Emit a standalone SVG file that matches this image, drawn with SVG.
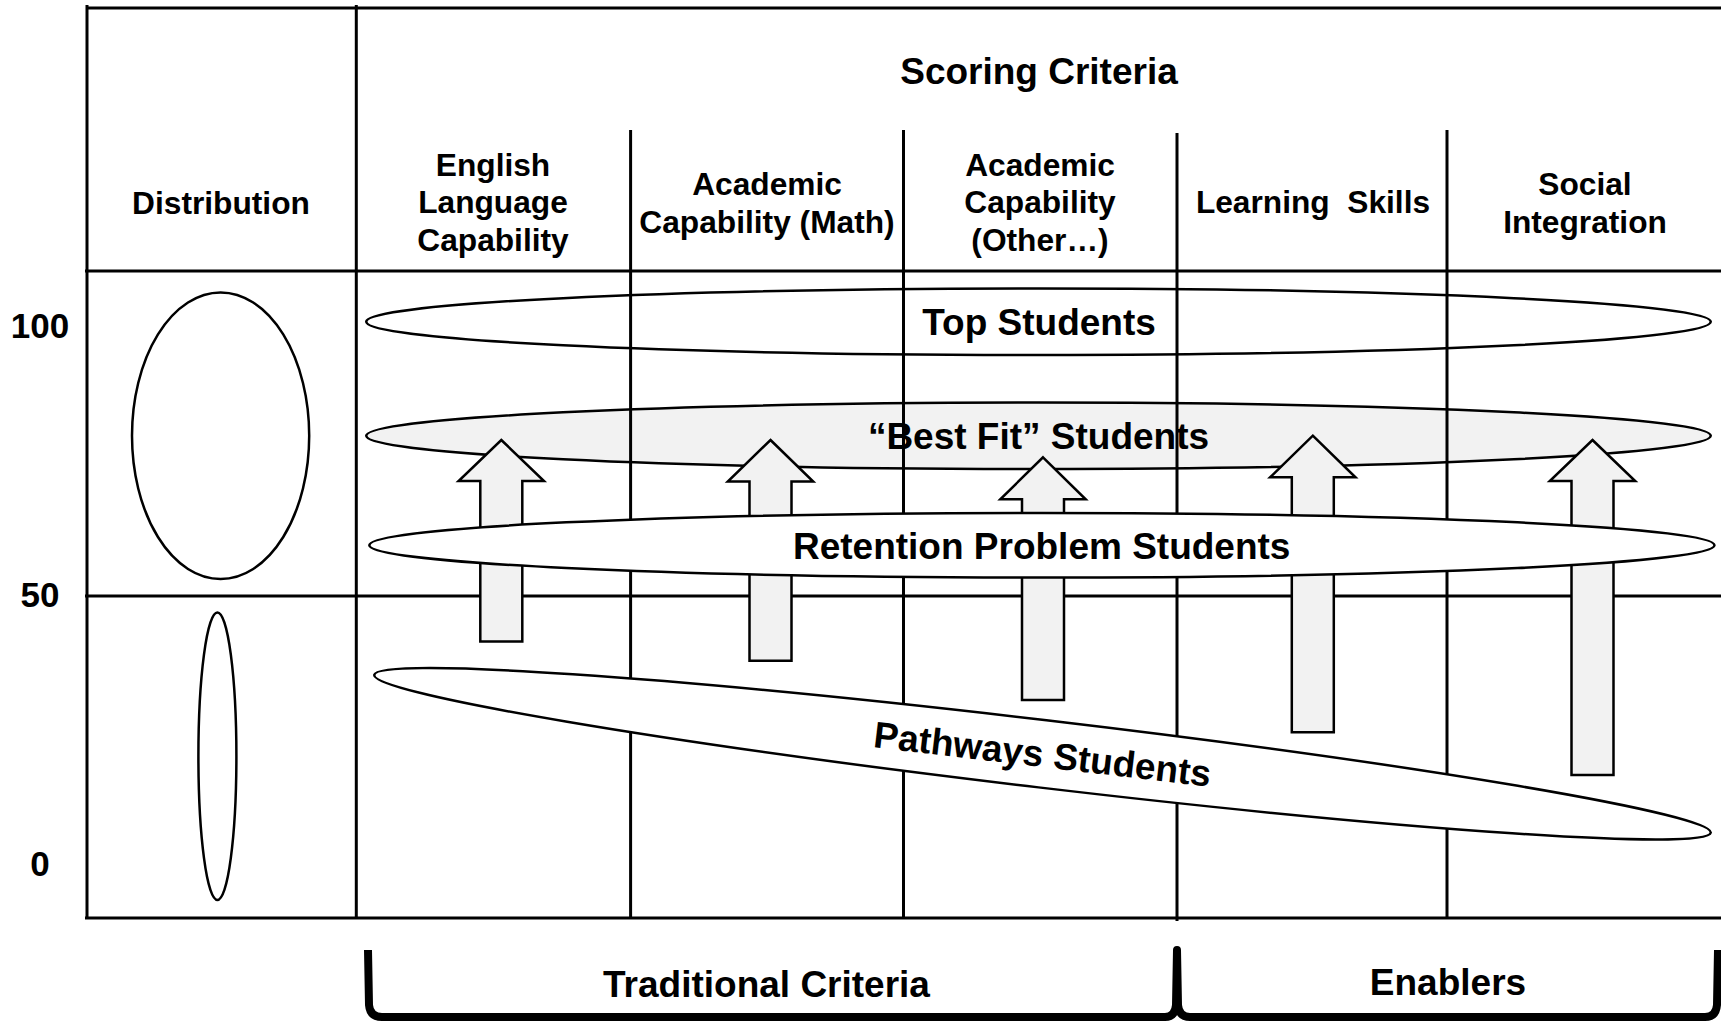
<svg xmlns="http://www.w3.org/2000/svg" width="1721" height="1021" viewBox="0 0 1721 1021">
<style>
text{font-family:"Liberation Sans",Arial,sans-serif;font-weight:bold;fill:#000;text-anchor:middle}
.hd{font-size:31.7px}
.big{font-size:37px}
.ax{font-size:35px}
.grid{stroke:#000;stroke-width:3;fill:none}
.ell{stroke:#000;stroke-width:2.5;fill:#fff}
.ellg{stroke:#000;stroke-width:2.5;fill:#f2f2f2}
.arr{stroke:#000;stroke-width:2.5;fill:#f2f2f2;stroke-linejoin:miter}
.brk{stroke:#000;stroke-width:8;fill:none;stroke-linejoin:round}
</style>
<rect width="1721" height="1021" fill="#fff"/>

<g id="headers">
<text class="big" x="1039" y="84">Scoring Criteria</text>
<text class="hd" x="221" y="214">Distribution</text>
<text class="hd" x="493" y="176">English</text>
<text class="hd" x="493" y="213.3">Language</text>
<text class="hd" x="493" y="250.7">Capability</text>
<text class="hd" x="767" y="195">Academic</text>
<text class="hd" x="767" y="232.5">Capability (Math)</text>
<text class="hd" x="1040" y="176">Academic</text>
<text class="hd" x="1040" y="213.3">Capability</text>
<text class="hd" x="1040" y="250.7">(Other…)</text>
<text class="hd" x="1313" y="213.3" xml:space="preserve">Learning  Skills</text>
<text class="hd" x="1585" y="195">Social</text>
<text class="hd" x="1585" y="232.5">Integration</text>
</g>

<g id="axis-labels">
<text class="ax" x="40" y="337.5">100</text>
<text class="ax" x="40" y="606.5">50</text>
<text class="ax" x="40" y="876">0</text>
</g>

<g id="distribution">
<ellipse class="ell" cx="220.6" cy="435.7" rx="88.6" ry="143.3"/>
<ellipse class="ell" cx="217.4" cy="756.3" rx="19" ry="143.7"/>
</g>

<g id="top-students">
<ellipse class="ell" cx="1038.5" cy="321.7" rx="672.3" ry="33.3"/>
<text class="big" x="1039" y="335">Top Students</text>
</g>

<g id="best-fit-students">
<ellipse class="ellg" cx="1038.5" cy="435.8" rx="672.3" ry="33.2"/>
<text class="big" x="1038.5" y="449">“Best Fit” Students</text>
</g>

<g id="connectors">
<g id="grid">
<line class="grid" x1="87" y1="8" x2="1721" y2="8"/>
<line class="grid" x1="87" y1="5" x2="87" y2="918"/>
<line class="grid" x1="356.3" y1="5" x2="356.3" y2="918"/>
<line class="grid" x1="630.6" y1="130" x2="630.6" y2="918"/>
<line class="grid" x1="903.5" y1="130" x2="903.5" y2="918"/>
<line class="grid" x1="1177" y1="133" x2="1177" y2="921"/>
<line class="grid" x1="1447" y1="130" x2="1447" y2="918"/>
<line class="grid" x1="85" y1="271" x2="1721" y2="271"/>
<line class="grid" x1="85" y1="596" x2="1721" y2="596"/>
<line class="grid" x1="85" y1="918" x2="1721" y2="918"/>
</g>
<g id="arrows">
<polygon class="arr" points="501.3,440 544,481 522.3,481 522.3,641.5 480.3,641.5 480.3,481 458.6,481"/>
<polygon class="arr" points="770.5,440 813.2,481.5 791.5,481.5 791.5,660.7 749.5,660.7 749.5,481.5 727.8,481.5"/>
<polygon class="arr" points="1043,457.3 1085.7,499.3 1064,499.3 1064,700 1022,700 1022,499.3 1000.3,499.3"/>
<polygon class="arr" points="1312.8,435.7 1355.5,477.3 1333.8,477.3 1333.8,732.3 1291.8,732.3 1291.8,477.3 1270.1,477.3"/>
<polygon class="arr" points="1592.5,440 1635.2,481 1613.5,481 1613.5,775 1571.5,775 1571.5,481 1549.8,481"/>
</g>
</g>

<g id="retention-students">
<ellipse class="ell" cx="1041.9" cy="545.2" rx="672.6" ry="32.3"/>
<text class="big" x="1041.7" y="559">Retention Problem Students</text>
</g>

<g id="pathways-students">
<ellipse class="ell" cx="1042.5" cy="753.8" rx="672.9" ry="33.8" transform="rotate(6.73 1042.5 753.8)"/>
<text class="big" x="1042.5" y="767" transform="rotate(6.73 1042.5 753.8)">Pathways Students</text>
</g>

<g id="brackets">
<path class="brk" d="M368,950 L369,1005 Q370,1017 382,1017 L1165,1017 Q1175,1017 1176,1005 L1177,950 L1178,1005 Q1179,1017 1190,1017 L1705,1017 Q1716,1017 1717,1005 L1718,950"/>
<text class="big" x="766.5" y="996.5">Traditional Criteria</text>
<text class="big" x="1448" y="995">Enablers</text>
</g>
</svg>
